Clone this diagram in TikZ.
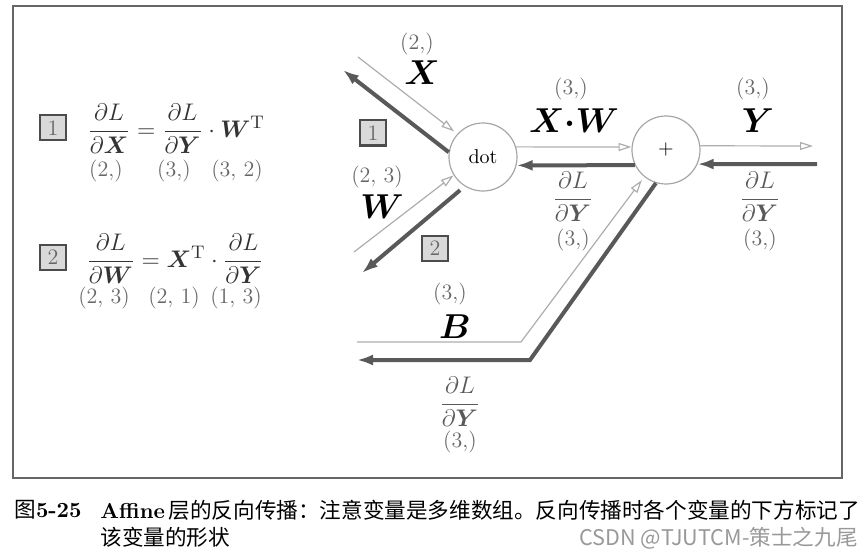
\documentclass[tikz,border=0pt]{standalone}
\usepackage{amsmath,bm}
\usepackage{fontspec}
\newfontfamily\cjk{Noto Sans CJK SC}
\usetikzlibrary{arrows.meta}
\tikzset{
  fwd/.style={draw=black!32, line width=0.6pt, -{Triangle[open,length=6.5pt,width=4pt]}},
  bwd/.style={draw=black!65, line width=2pt, -{Latex[length=8pt,width=5.5pt]}},
  opnode/.style={circle, draw=black!35, line width=0.6pt, minimum size=34pt, inner sep=0pt, font=\fontsize{10}{12}\selectfont},
  numbox/.style={draw=black!70, fill=black!15, line width=1pt, minimum width=13pt, minimum height=12.5pt, inner sep=0pt, text=black!60, font=\fontsize{11}{13}\selectfont},
  dimlabel/.style={inner sep=0pt, text=black!60, font=\fontsize{11}{13}\selectfont},
  varlabel/.style={inner sep=0pt, font=\fontsize{18}{22}\selectfont},
  gradlabel/.style={inner sep=0pt, text=black!65, font=\fontsize{12}{14}\selectfont},
  eqnode/.style={inner sep=0pt, text=black!80, font=\fontsize{13}{15}\selectfont},
  capfont/.style={inner sep=0pt, font=\fontsize{10.8}{13}\selectfont}
}
\begin{document}
\begin{tikzpicture}[x=0.5pt, y=-0.5pt]
    \useasboundingbox (0,0) rectangle (867,556);
    % 外框
    \draw[black!60, line width=1pt] (13,6) rectangle (842,478);

    % 左侧公式
    \node[numbox] (eqbox1) at (53,128) {1};
    \node[eqnode, anchor=west] (eq1) at (87,129) {$\dfrac{\partial L}{\partial \bm{X}} = \dfrac{\partial L}{\partial \bm{Y}} \cdot \bm{W}^{\mathrm{T}}$};
    \node[dimlabel] (eq1a) at (106,171) {(2,)};
    \node[dimlabel] (eq1b) at (174,171) {(3,)};
    \node[dimlabel] (eq1c) at (237,171) {(3, 2)};

    \node[numbox] (eqbox2) at (53,257) {2};
    \node[eqnode, anchor=west] (eq2) at (86,259) {$\dfrac{\partial L}{\partial \bm{W}} = \bm{X}^{\mathrm{T}} \cdot \dfrac{\partial L}{\partial \bm{Y}}$};
    \node[dimlabel] (eq2a) at (104,298) {(2, 3)};
    \node[dimlabel] (eq2b) at (174,298) {(2, 1)};
    \node[dimlabel] (eq2c) at (236,298) {(1, 3)};

    % 运算节点
    \node[opnode] (dot) at (483,157) {dot};
    \node[opnode] (plus) at (666,150) {$+$};

    % 端点
    \coordinate (Xin) at (358,57);
    \coordinate (Xout) at (343,70);
    \coordinate (Win) at (354,252);
    \coordinate (Wout) at (362,273);
    \coordinate (Yout) at (813,146);
    \coordinate (Yin) at (817,164);
    \coordinate (Bin) at (357,342);
    \coordinate (Bfwdbend) at (521,342);
    \coordinate (Bbwdbend) at (530,360);
    \coordinate (Bout) at (357,360);

    % 正向传播
    \draw[fwd, shorten >=2pt] (Xin) -- (dot.138);
    \draw[fwd] (Win) -- (dot.212);
    \draw[fwd] (dot.17) -- (plus.175);
    \draw[fwd] (plus.7) -- (Yout);
    \draw[fwd, shorten >=2pt] (Bin) -- (Bfwdbend) -- (plus.231);

    % 反向传播
    \draw[bwd] (dot.172) -- (Xout);
    \draw[bwd, shorten <=3pt] (dot.238) -- (Wout);
    \draw[bwd] (plus.206) -- (dot.-14);
    \draw[bwd] (Yin) -- (plus.-24);
    \draw[bwd] (plus.253) -- (Bbwdbend) -- (Bout);

    % 变量与形状
    \node[dimlabel] (Xdim) at (417,44) {(2,)};
    \node[varlabel] (Xvar) at (422,73) {$\bm{X}$};
    \node[numbox] (grad1) at (373,133) {1};
    \node[dimlabel] (Wdim) at (377,177) {(2, 3)};
    \node[varlabel] (Wvar) at (382,207) {$\bm{W}$};
    \node[numbox] (grad2) at (435,248) {2};

    \node[dimlabel] (XWdim) at (571,89) {(3,)};
    \node[varlabel] (XWvar) at (574,121) {$\bm{X}{\bm{\cdot}}\bm{W}$};
    \node[gradlabel] (XWgrad) at (573,197) {$\dfrac{\partial L}{\partial \bm{Y}}$};
    \node[dimlabel] (XWgdim) at (573,240) {(3,)};

    \node[dimlabel] (Ydim) at (753,89) {(3,)};
    \node[varlabel] (Yvar) at (758,121) {$\bm{Y}$};
    \node[gradlabel] (Ygrad) at (760,197) {$\dfrac{\partial L}{\partial \bm{Y}}$};
    \node[dimlabel] (Ygdim) at (760,240) {(3,)};

    \node[dimlabel] (Bdim) at (450,294) {(3,)};
    \node[varlabel] (Bvar) at (455,327) {$\bm{B}$};
    \node[gradlabel] (Bgrad) at (460,402) {$\dfrac{\partial L}{\partial \bm{Y}}$};
    \node[dimlabel] (Bgdim) at (460,442) {(3,)};

    % 图注
    \node[capfont, anchor=west] (capnum) at (14,510) {{\cjk 图}\textbf{5-25}};
    \node[capfont, anchor=west] (capline1) at (100,510) {\textbf{Affine}\,{\cjk 层的反向传播：注意变量是多维数组。反向传播时各个变量的下方标记了}};
    \node[capfont, anchor=west] (capline2) at (100,537) {{\cjk 该变量的形状}};
    \node[capfont, anchor=east, text=black!40] (mark) at (858,538) {\cjk CSDN @TJUTCM-策士之九尾};
\end{tikzpicture}
\end{document}
